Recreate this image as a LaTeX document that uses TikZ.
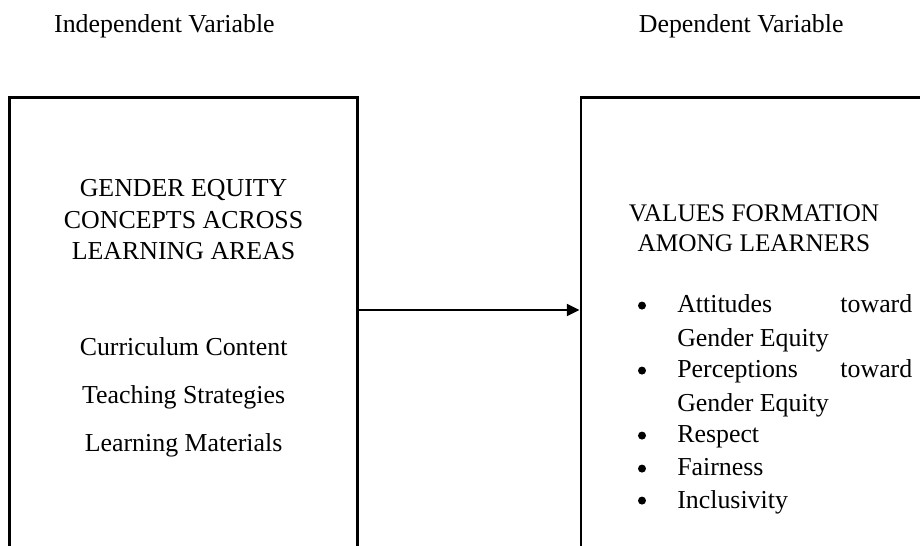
\documentclass[tikz,border=0pt]{standalone}
\usepackage{fontspec}
\setmainfont{Liberation Serif}
\usetikzlibrary{arrows.meta,positioning}

\begin{document}
\begin{tikzpicture}[font=\fontsize{18.4}{22.4}\selectfont,
    varbox/.style={draw,line width=2pt,inner sep=0pt,minimum width=8.7cm,minimum height=11.8cm},
    lbl/.style={anchor=base,inner sep=0pt},
    blt/.style={circle,fill,inner sep=0pt,minimum size=0.2cm},
    itm/.style={anchor=base west,inner sep=0pt,font=\fontsize{18.4}{23.5}\selectfont},
    link/.style={-{Triangle[length=0.32cm,width=0.3cm]},line width=1.6pt}]
  \useasboundingbox (0,0) rectangle (23,13.65);
  \clip (0,0) rectangle (23,13.65);
  % headings
  \node[lbl] (ivhead) at (4.11,12.83) {Independent Variable};
  \node[lbl] (dvhead) at (18.53,12.83) {Dependent Variable};
  % independent variable
  \begin{scope}
    \node[varbox] (ivbox) at (4.58,5.31) {};
    \node[align=center,inner sep=0pt] (ivtitle) at (4.59,8.15) {GENDER EQUITY\\CONCEPTS ACROSS\\LEARNING AREAS};
    \node[lbl] (cur) at (4.59,4.75) {Curriculum Content};
    \node[lbl] (tea) at (4.59,3.55) {Teaching Strategies};
    \node[lbl] (mat) at (4.59,2.36) {Learning Materials};
  \end{scope}
  % dependent variable
  \begin{scope}
    \node[varbox] (dvbox) at (18.875,5.31) {};
    \node[align=center,inner sep=0pt,font=\fontsize{18}{21.3}\selectfont] (dvtitle) at (18.85,7.94) {VALUES FORMATION\\AMONG LEARNERS};
    \node[blt] (b1) at (16.05,6.01) {};
    \node[itm] (att) at (16.925,5.825) {\parbox[t]{5.875cm}{Attitudes\hfill toward\\Gender Equity}};
    \node[blt] (b2) at (16.05,4.385) {};
    \node[itm] (per) at (16.925,4.2) {\parbox[t]{5.875cm}{Perceptions\hfill toward\\Gender Equity}};
    \node[blt] (b3) at (16.05,2.76) {};
    \node[itm] (res) at (16.925,2.575) {Respect};
    \node[blt] (b4) at (16.05,1.935) {};
    \node[itm] (fai) at (16.925,1.75) {Fairness};
    \node[blt] (b5) at (16.05,1.135) {};
    \node[itm] (inc) at (16.925,0.95) {Inclusivity};
  \end{scope}
  % link
  \coordinate (arr) at (0,5.9);
  \draw[link] (ivbox.east |- arr) -- (dvbox.west |- arr);
\end{tikzpicture}
\end{document}
